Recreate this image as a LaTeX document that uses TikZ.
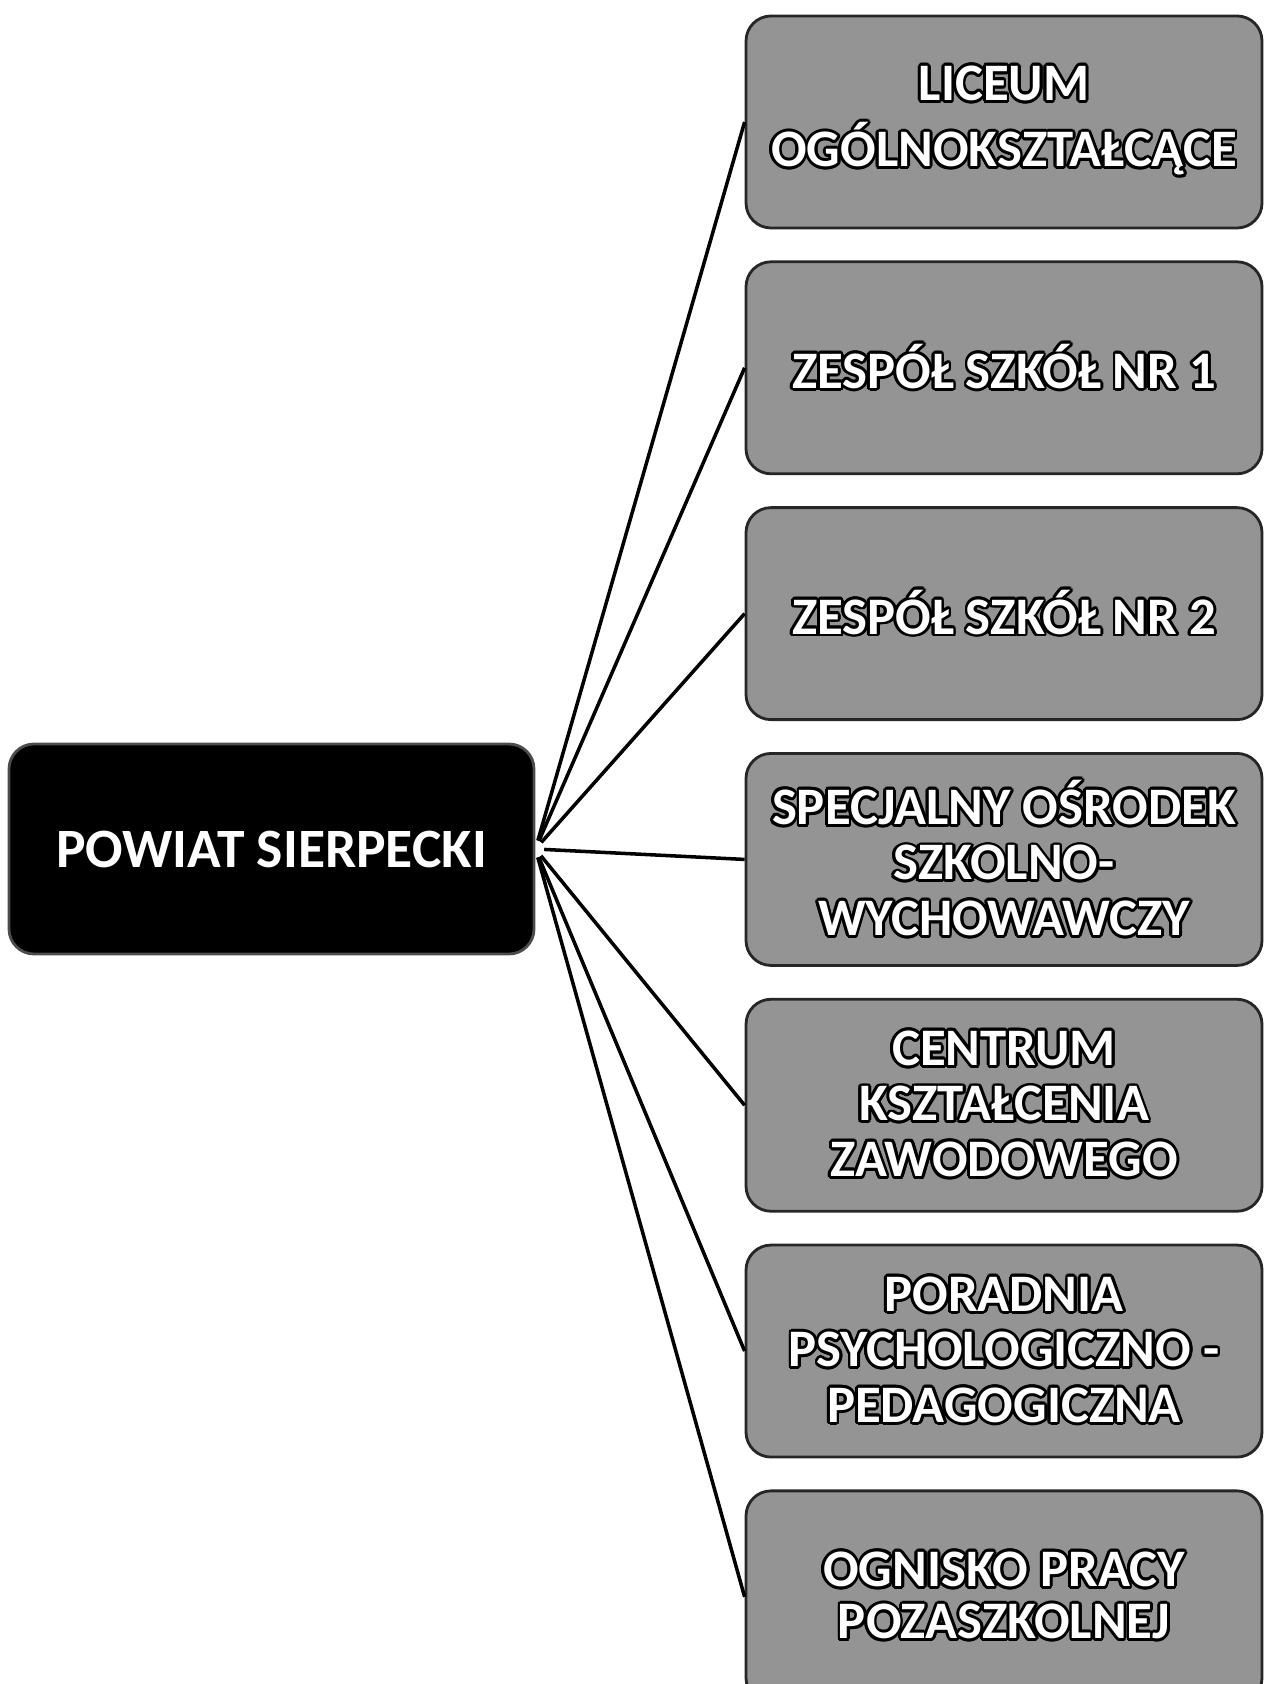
\documentclass[tikz,border=0pt]{standalone}
\usepackage{fontspec}
\setmainfont{Carlito}
\usepackage{contour}
\usepackage{tikz}
\usetikzlibrary{positioning}
\contourlength{0.8pt}
\newcommand{\ol}[1]{\contour{black}{#1}}

\begin{document}
\begin{tikzpicture}[
    node distance=3.1mm,
    unit/.style={draw=black!85, line width=0.8pt, rounded corners=2.5mm, fill=black!42, text=white, minimum width=5.16cm, minimum height=2.12cm, align=center, inner sep=2pt, font=\fontsize{15}{15.8}\selectfont\bfseries},
    root/.style={draw=black!70, line width=0.8pt, rounded corners=2.5mm, fill=black, text=white, minimum width=5.25cm, minimum height=2.1cm, align=center, font=\fontsize{15.8}{18}\selectfont\bfseries},
    link/.style={line width=1pt, shorten <=2.5pt}
  ]
    \useasboundingbox (0,0) rectangle (12.63,-16.84);
    % Left
    \node[root] (powiat) at (2.715,-8.49) {POWIAT SIERPECKI};
    % Right column
    \node[unit] (liceum) at (10.04,-1.22) {\ol{LICEUM}\\[3pt]\ol{OGÓLNOKSZTAŁCĄCE}};
    \node[unit, below=of liceum] (zs1) {\ol{ZESPÓŁ SZKÓŁ NR 1}};
    \node[unit, below=of zs1] (zs2) {\ol{ZESPÓŁ SZKÓŁ NR 2}};
    \node[unit, below=of zs2] (sosw) {\ol{SPECJALNY OŚRODEK}\\\ol{SZKOLNO-}\\\ol{WYCHOWAWCZY}};
    \node[unit, below=of sosw] (ckz) {\ol{CENTRUM}\\\ol{KSZTAŁCENIA}\\\ol{ZAWODOWEGO}};
    \node[unit, below=of ckz] (ppp) {\ol{PORADNIA}\\\ol{PSYCHOLOGICZNO -}\\\ol{PEDAGOGICZNA}};
    \node[unit, below=of ppp] (opp) {\ol{OGNISKO PRACY}\\[-1pt]\ol{POZASZKOLNEJ}};
    % Links
    \foreach \t in {liceum,zs1,zs2,sosw,ckz,ppp,opp}
      \draw[link] (powiat.east) -- (\t.west);
\end{tikzpicture}
\end{document}
